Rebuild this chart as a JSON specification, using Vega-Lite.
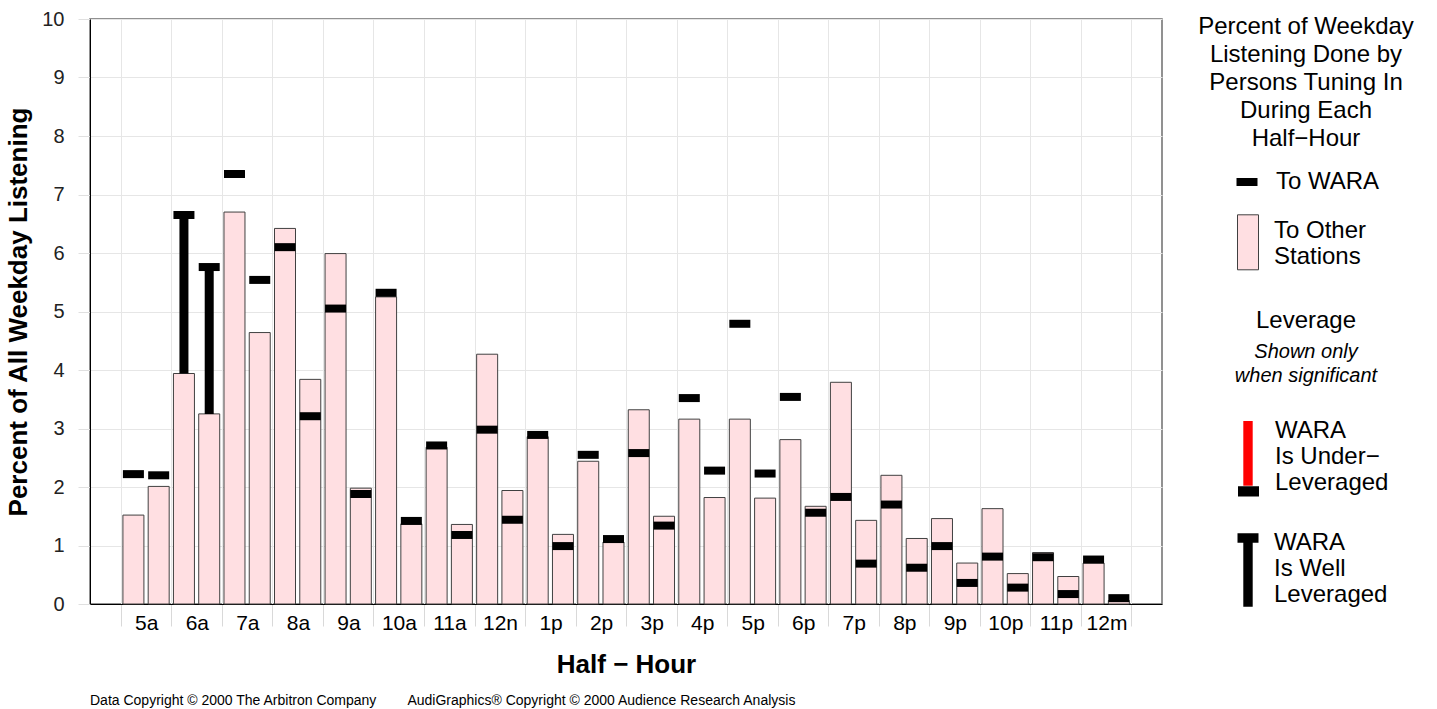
{
  "$schema": "https://vega.github.io/schema/vega-lite/v6.json",
  "width": 1072,
  "height": 585,
  "autosize": {"type": "none"},
  "padding": {"left": 90, "top": 19, "right": 275, "bottom": 105},
  "background": "white",
  "config": {
    "font": "Liberation Sans",
    "view": {"stroke": "#6e6e6e", "strokeWidth": 1.5},
    "legend": {
      "padding": 0,
      "titleFont": "Liberation Sans", "titleFontSize": 24, "titleFontWeight": "normal", "titleColor": "#000000",
      "titleAlign": "center", "titleAnchor": "middle", "titleLimit": 600,
      "labelFont": "Liberation Sans", "labelFontSize": 24, "labelColor": "#000000", "labelLimit": 600,
      "symbolSize": 400, "symbolOpacity": 1
    }
  },
  "title": {
    "text": "Data Copyright © 2000 The Arbitron Company\u00a0\u00a0\u00a0\u00a0\u00a0\u00a0\u00a0\u00a0AudiGraphics® Copyright © 2000 Audience Research Analysis",
    "orient": "bottom",
    "anchor": "start",
    "frame": "group",
    "offset": 17,
    "fontSize": 14,
    "fontWeight": "normal",
    "font": "Liberation Sans",
    "color": "#000000"
  },
  "data": {
    "values": [
      {"hour": 5.0, "other": 1.52, "wara": 2.22, "leverage": null},
      {"hour": 5.5, "other": 2.01, "wara": 2.20, "leverage": null},
      {"hour": 6.0, "other": 3.94, "wara": 6.65, "leverage": "WARA Is Well Leveraged"},
      {"hour": 6.5, "other": 3.25, "wara": 5.76, "leverage": "WARA Is Well Leveraged"},
      {"hour": 7.0, "other": 6.70, "wara": 7.35, "leverage": null},
      {"hour": 7.5, "other": 4.64, "wara": 5.54, "leverage": null},
      {"hour": 8.0, "other": 6.42, "wara": 6.10, "leverage": null},
      {"hour": 8.5, "other": 3.84, "wara": 3.21, "leverage": null},
      {"hour": 9.0, "other": 5.99, "wara": 5.05, "leverage": null},
      {"hour": 9.5, "other": 1.98, "wara": 1.88, "leverage": null},
      {"hour": 10.0, "other": 5.25, "wara": 5.32, "leverage": null},
      {"hour": 10.5, "other": 1.37, "wara": 1.42, "leverage": null},
      {"hour": 11.0, "other": 2.68, "wara": 2.71, "leverage": null},
      {"hour": 11.5, "other": 1.36, "wara": 1.18, "leverage": null},
      {"hour": 12.0, "other": 4.27, "wara": 2.98, "leverage": null},
      {"hour": 12.5, "other": 1.94, "wara": 1.44, "leverage": null},
      {"hour": 13.0, "other": 2.86, "wara": 2.89, "leverage": null},
      {"hour": 13.5, "other": 1.19, "wara": 0.99, "leverage": null},
      {"hour": 14.0, "other": 2.44, "wara": 2.55, "leverage": null},
      {"hour": 14.5, "other": 1.06, "wara": 1.11, "leverage": null},
      {"hour": 15.0, "other": 3.32, "wara": 2.58, "leverage": null},
      {"hour": 15.5, "other": 1.50, "wara": 1.34, "leverage": null},
      {"hour": 16.0, "other": 3.16, "wara": 3.52, "leverage": null},
      {"hour": 16.5, "other": 1.82, "wara": 2.28, "leverage": null},
      {"hour": 17.0, "other": 3.16, "wara": 4.79, "leverage": null},
      {"hour": 17.5, "other": 1.81, "wara": 2.23, "leverage": null},
      {"hour": 18.0, "other": 2.81, "wara": 3.54, "leverage": null},
      {"hour": 18.5, "other": 1.67, "wara": 1.56, "leverage": null},
      {"hour": 19.0, "other": 3.79, "wara": 1.83, "leverage": null},
      {"hour": 19.5, "other": 1.43, "wara": 0.69, "leverage": null},
      {"hour": 20.0, "other": 2.20, "wara": 1.70, "leverage": null},
      {"hour": 20.5, "other": 1.12, "wara": 0.62, "leverage": null},
      {"hour": 21.0, "other": 1.46, "wara": 0.99, "leverage": null},
      {"hour": 21.5, "other": 0.70, "wara": 0.36, "leverage": null},
      {"hour": 22.0, "other": 1.63, "wara": 0.81, "leverage": null},
      {"hour": 22.5, "other": 0.52, "wara": 0.28, "leverage": null},
      {"hour": 23.0, "other": 0.88, "wara": 0.80, "leverage": null},
      {"hour": 23.5, "other": 0.47, "wara": 0.17, "leverage": null},
      {"hour": 24.0, "other": 0.70, "wara": 0.76, "leverage": null},
      {"hour": 24.5, "other": 0.06, "wara": 0.10, "leverage": null}
    ]
  },
  "layer": [
    {
      "mark": {"type": "bar", "orient": "vertical", "size": 21, "stroke": "#404040", "strokeWidth": 1, "opacity": 1},
      "encoding": {
        "x": {
          "field": "hour", "type": "quantitative", "title": "Half − Hour",
          "scale": {"domain": [4.24, 25.255], "nice": false, "zero": false},
          "axis": {
            "values": [4.75, 5.75, 6.75, 7.75, 8.75, 9.75, 10.75, 11.75, 12.75, 13.75, 14.75, 15.75, 16.75, 17.75, 18.75, 19.75, 20.75, 21.75, 22.75, 23.75, 24.75],
            "labelExpr": "round(datum.value + 0.25) > 24 ? '' : round(datum.value + 0.25) == 12 ? '12n' : round(datum.value + 0.25) == 24 ? '12m' : round(datum.value + 0.25) < 12 ? round(datum.value + 0.25) + 'a' : (round(datum.value + 0.25) - 12) + 'p'",
            "labelOffset": 25.5,
            "grid": true, "gridColor": "#e6e6e6", "gridWidth": 1,
            "tickColor": "#d9d9d9", "tickSize": 22, "tickWidth": 1,
            "domainColor": "#000000", "domainWidth": 1,
            "labelFontSize": 21, "labelColor": "#000000", "labelPadding": -14,
            "labelFlush": false, "labelOverlap": false,
            "titleFontSize": 26, "titleFontWeight": "bold", "titleColor": "#000000", "titlePadding": 18
          }
        },
        "y": {
          "field": "other", "type": "quantitative", "title": "Percent of All Weekday Listening",
          "scale": {"domain": [0, 10], "nice": false},
          "axis": {
            "values": [0, 1, 2, 3, 4, 5, 6, 7, 8, 9, 10],
            "format": "d",
            "grid": true, "gridColor": "#e6e6e6", "gridWidth": 1,
            "tickColor": "#e0e0e0", "tickSize": 12,
            "domainColor": "#000000", "domainWidth": 1,
            "labelFontSize": 20, "labelColor": "#222222", "labelPadding": 14,
            "titleFontSize": 26, "titleFontWeight": "bold", "titleColor": "#000000", "titlePadding": 10
          }
        },
        "fill": {
          "datum": "To Other Stations", "type": "nominal",
          "scale": {"domain": ["To Other Stations"], "range": ["#ffdfe2"]},
          "legend": {
            "orient": "none", "legendX": 1140, "legendY": 200,
            "title": null,
            "labelExpr": "['To Other', 'Stations']",
            "labelOffset": 14, "symbolOffset": 6,
            "symbolType": "M-1.05,-1.62H1.05V3.88H-1.05Z",
            "symbolStrokeColor": "#404040", "symbolStrokeWidth": 1
          }
        }
      }
    },
    {
      "transform": [{"filter": "datum.leverage != null"}],
      "mark": {"type": "rule", "strokeWidth": 9},
      "encoding": {
        "x": {"field": "hour", "type": "quantitative", "title": "Half − Hour"},
        "y": {"field": "other", "type": "quantitative", "title": "Percent of All Weekday Listening"},
        "y2": {"field": "wara"},
        "stroke": {
          "field": "leverage", "type": "nominal",
          "scale": {"domain": ["WARA Is Under−Leveraged", "WARA Is Well Leveraged"], "range": ["#ff0000", "#000000"]},
          "legend": {
            "orient": "none", "legendX": 1133, "legendY": 509,
            "title": null,
            "values": ["WARA Is Well Leveraged"],
            "labelExpr": "['WARA', 'Is Well', 'Leveraged']",
            "labelOffset": 11, "symbolOffset": 10,
            "symbolType": "M-1.05,-0.5H1.05M0,-0.03V6.37",
            "symbolStrokeWidth": 9.4, "symbolStrokeColor": "#000000", "symbolFillColor": "transparent"
          }
        },
        "strokeDash": {
          "datum": "WARA Is Under−Leveraged", "type": "nominal",
          "scale": {"range": [[1, 0]]},
          "legend": {
            "orient": "none", "legendX": 1133, "legendY": 290,
            "title": "Leverage", "titlePadding": 82,
            "labelExpr": "['WARA', 'Is Under−', 'Leveraged']",
            "labelOffset": 11, "symbolOffset": 10,
            "symbolType": "M-1.05,6.085H1.05",
            "symbolStrokeWidth": 10.3, "symbolStrokeColor": "#000000", "symbolFillColor": "transparent", "symbolDash": [1, 0]
          }
        },
        "opacity": {
          "datum": "Shown only when significant", "type": "ordinal",
          "scale": {"range": [1, 1]},
          "legend": {
            "orient": "none", "legendX": 1145, "legendY": 323,
            "title": ["Shown only", "when significant"],
            "titleFontSize": 20, "titleFontStyle": "italic", "titleLineHeight": 24, "titlePadding": 20,
            "labelExpr": "''",
            "labelOffset": 0, "symbolOffset": -112,
            "symbolType": "M0,0V6.47",
            "symbolStrokeWidth": 9.4, "symbolStrokeColor": "#ff0000", "symbolFillColor": "transparent"
          }
        }
      }
    },
    {
      "mark": {"type": "tick", "orient": "horizontal", "size": 21, "thickness": 8, "opacity": 1},
      "encoding": {
        "x": {"field": "hour", "type": "quantitative", "title": "Half − Hour"},
        "y": {"field": "wara", "type": "quantitative", "title": "Percent of All Weekday Listening"},
        "color": {
          "datum": "To WARA", "type": "nominal",
          "scale": {"domain": ["To WARA"], "range": ["#000000"]},
          "legend": {
            "orient": "none", "legendX": 1108, "legendY": -4,
            "title": ["Percent of Weekday", "Listening Done by", "Persons Tuning In", "During Each", "Half−Hour"],
            "titleLineHeight": 28, "titlePadding": 19,
            "labelOffset": 17, "symbolOffset": 2,
            "symbolType": "M-1.05,-0.4H1.05V0.4H-1.05Z",
            "symbolStrokeWidth": 0
          }
        }
      }
    }
  ]
}
